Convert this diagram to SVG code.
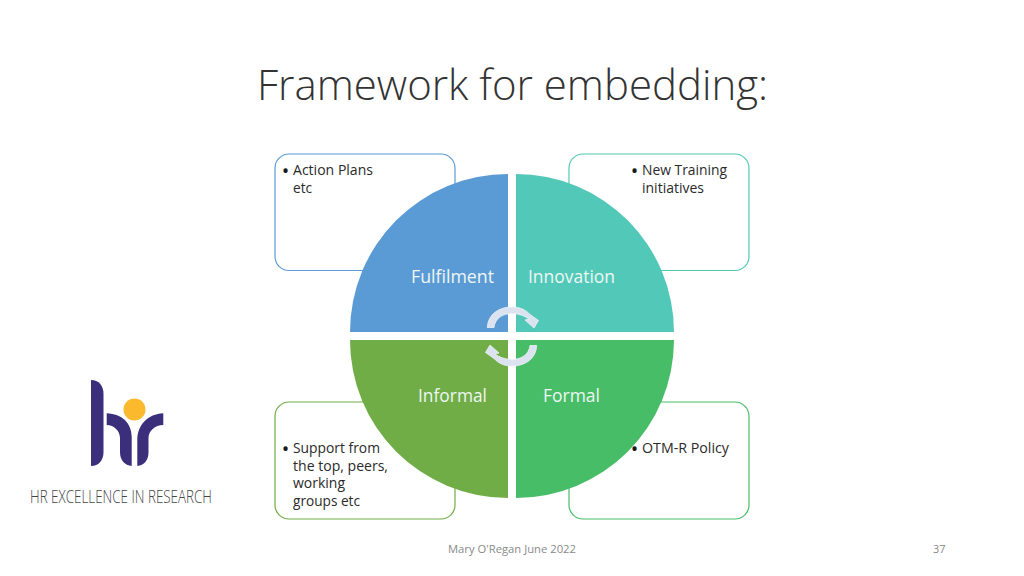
<svg xmlns="http://www.w3.org/2000/svg" width="1024" height="576" viewBox="0 0 1024 576">
<defs><style>
text{font-family:"Open Sans",Lato,sans-serif}
.box{fill:#fff;stroke-width:1.2}
.t{font-size:14px;fill:#2a2a2a}
.b{font-size:20px;fill:#1a1a1a}
.l{font-size:18px;fill:#eef6f4}
.f{font-size:11.500px;fill:#8a8a8a}
.a{fill:#dbe2f0;stroke:#eef1f8;stroke-width:.8}
.p{fill:#3b2f7c}
</style>
<path id="ar" d="M487.300,327.500 C488,314 499,307 512,307 C520,307 526,310 530,314.500 L538.500,320.500 L534,328 L525,320 L529,319 C525,316 519,313.500 512,313.500 C502,313.500 495,319 494,327.500 Z"/>
</defs>
<rect width="1024" height="576" fill="#fff"/>
<text id="title" x="257" y="100" font-size="42" font-weight="300" fill="#333" textLength="511" lengthAdjust="spacingAndGlyphs">Framework for embedding:</text>
<g id="box-fulfilment"><rect class="box" x="275" y="154" width="180" height="116.500" rx="14" stroke="#5b9bd5"/></g>
<g id="box-innovation"><rect class="box" x="569" y="154" width="180" height="116.500" rx="14" stroke="#52c8b4"/></g>
<g id="box-informal"><rect class="box" x="275" y="402" width="180" height="117" rx="14" stroke="#70ad47"/></g>
<g id="box-formal"><rect class="box" x="569" y="402" width="180" height="117" rx="14" stroke="#48bd68"/></g>
<g id="fulfilment"><path d="M508,332 H350 A158,158 0 0 1 508,174 Z" fill="#5b9bd5"/><text class="l" x="411" y="283" textLength="83" lengthAdjust="spacingAndGlyphs">Fulfilment</text></g>
<g id="innovation"><path d="M516,332 H674 A158,158 0 0 0 516,174 Z" fill="#52c9b8"/><text class="l" x="528" y="283" textLength="87" lengthAdjust="spacingAndGlyphs">Innovation</text></g>
<g id="informal"><path d="M508,340 H350 A158,158 0 0 0 508,498 Z" fill="#70ad47"/><text class="l" x="418" y="402" textLength="69" lengthAdjust="spacingAndGlyphs">Informal</text></g>
<g id="formal"><path d="M516,340 H674 A158,158 0 0 1 516,498 Z" fill="#48bd68"/><text class="l" x="543" y="402" textLength="57" lengthAdjust="spacingAndGlyphs">Formal</text></g>
<g id="connectors"><use href="#ar" class="a"/><use href="#ar" class="a" transform="rotate(180 512 336.500)"/></g>
<g id="notes">
<text class="b" x="281.700" y="177.600">•</text><text class="t" x="293" y="175" textLength="80" lengthAdjust="spacingAndGlyphs">Action Plans</text><text class="t" x="293" y="193" textLength="19" lengthAdjust="spacingAndGlyphs">etc</text>
<text class="b" x="630.700" y="177.600">•</text><text class="t" x="642" y="175" textLength="85" lengthAdjust="spacingAndGlyphs">New Training</text><text class="t" x="642" y="193" textLength="62" lengthAdjust="spacingAndGlyphs">initiatives</text>
<text class="b" x="281.700" y="455.600">•</text><text class="t" x="293" y="453" textLength="87" lengthAdjust="spacingAndGlyphs">Support from</text><text class="t" x="293" y="471" textLength="95" lengthAdjust="spacingAndGlyphs">the top, peers,</text><text class="t" x="293" y="488" textLength="52" lengthAdjust="spacingAndGlyphs">working</text><text class="t" x="293" y="506" textLength="67" lengthAdjust="spacingAndGlyphs">groups etc</text>
<text class="b" x="630.700" y="455.600">•</text><text class="t" x="642" y="453" textLength="87" lengthAdjust="spacingAndGlyphs">OTM-R Policy</text>
</g>
<g id="logo">
<path class="p" d="M91,380 C99,380 103.500,386 103.500,394 V452 C103.500,460 99,466 91,466 Z"/>
<path class="p" d="M106.700,413.300 C122,414 131.700,423 131.700,437 V466 C125,465 120,461 120,452 V438 C120,431 114,425 106.700,425 Z"/>
<path class="p" d="M163.300,413.300 C148,414 137.300,425 137.300,440 V466 C144,465 148.500,461 148.500,452 V438 C148.500,431 155,425 163.300,425 Z"/>
<circle cx="134.500" cy="409.500" r="11" fill="#fbb92e"/>
<text x="30" y="503" font-size="17.500" font-weight="300" fill="#444" textLength="182" lengthAdjust="spacingAndGlyphs">HR EXCELLENCE IN RESEARCH</text>
</g>
<text id="footer" class="f" x="448" y="553" textLength="128" lengthAdjust="spacingAndGlyphs">Mary O'Regan June 2022</text>
<text id="page" class="f" x="933" y="553" textLength="12.500" lengthAdjust="spacingAndGlyphs">37</text>
</svg>
